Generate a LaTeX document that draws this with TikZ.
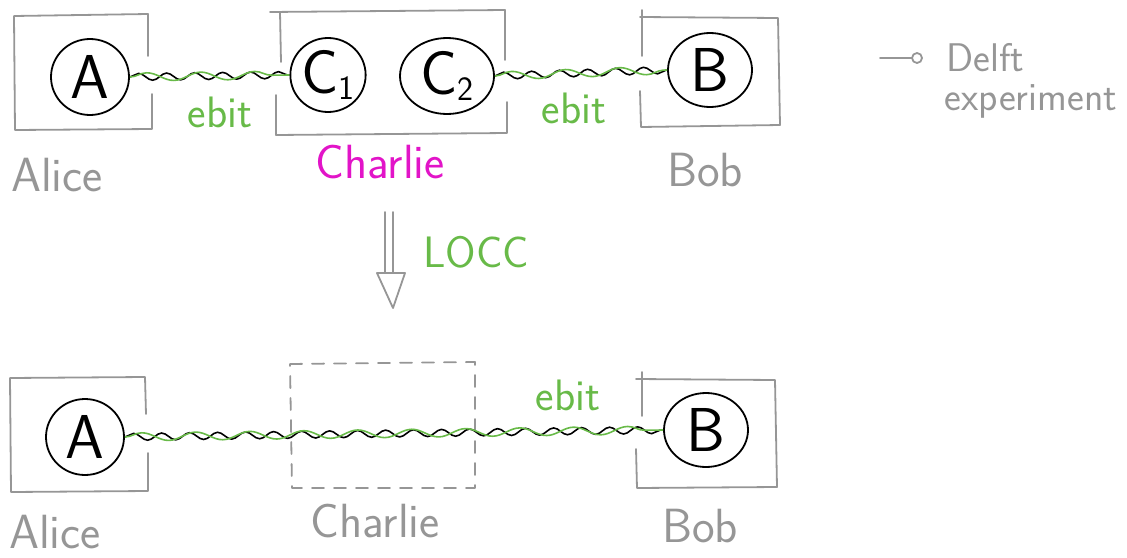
\documentclass[tikz,border=0pt]{standalone}
\usepackage{fontspec}
\usetikzlibrary{shapes.geometric,decorations.pathmorphing,calc}
\definecolor{framegray}{RGB}{150,150,150}
\definecolor{qgreen}{RGB}{104,186,72}
\definecolor{charliemag}{RGB}{226,20,200}
\tikzset{
  frame/.style={draw=framegray, line width=1.8pt, line cap=round, line join=round},
  dframe/.style={frame, dash pattern=on 12pt off 10pt},
  qubit/.style={draw=black, ellipse, line width=1.8pt, inner sep=0pt, font=\sffamily\fontsize{62}{62}\selectfont},
  blackwave/.style={draw=black, line width=1.6pt, decorate, decoration={snake, amplitude=3.5pt, segment length=28pt}},
  greenwave/.style={draw=qgreen, line width=1.6pt, decorate, decoration={snake, amplitude=4pt, segment length=54pt}},
  graylabel/.style={text=framegray, font=\sffamily\fontsize{48}{48}\selectfont},
  greenlabel/.style={text=qgreen, font=\sffamily\fontsize{44}{44}\selectfont},
  notelabel/.style={text=framegray, font=\sffamily\fontsize{40}{40}\selectfont, anchor=west, inner sep=0.5pt},
}
\begin{document}
\begin{tikzpicture}[x=1pt, y=-1pt]
\useasboundingbox (0,0) rectangle (1127,557);

% ---------- before: two ebits through Charlie ----------
% Alice's lab
\draw[frame] (148,56) -- (148,14) -- (14,16) -- (15,130) -- (152,129) -- (152,94);
% Charlie's lab
\draw[frame] (281,62) -- (280,12);
\draw[frame] (270,12) -- (505,10) -- (505,60);
\draw[frame] (276,95) -- (276,135) -- (507,133) -- (507,102);
% Bob's lab
\draw[frame] (642,10) -- (642,56);
\draw[frame] (640,17) -- (778,18) -- (780,125) -- (641,127) -- (640,91);

\node[qubit, minimum width=78pt, minimum height=76pt] (A1) at (90,77) {A};
\node[qubit, minimum width=68pt, minimum height=74pt] (C1) at (328,75) {C\raisebox{-6pt}{\fontsize{34}{34}\selectfont 1}};
\node[qubit, minimum width=94pt, minimum height=76pt] (C2) at (447,76) {C\raisebox{-6pt}{\fontsize{34}{34}\selectfont 2}};
\node[qubit, minimum width=84pt, minimum height=74pt] (B1) at (710,70) {B};

\draw[blackwave] (A1.east) -- (C1.west);
\draw[greenwave] (A1.east) -- (C1.west);
\draw[blackwave] (C2.east) -- (B1.west);
\draw[greenwave] (C2.east) -- (B1.west);

\node[greenlabel] (e1) at (220,112) {ebit};
\node[greenlabel] (e2) at (574,108) {ebit};

\node[graylabel] (alice1) at (57,175) {Alice};
\node[text=charliemag, font=\sffamily\fontsize{48}{48}\selectfont] (charlie1) at (380,162) {Charlie};
\node[graylabel] (bob1) at (705,170) {Bob};

% side remark
\node[notelabel] (delft) at (946,58) {Delft};
\node[notelabel] (exper) at (944,101) {experiment};
\coordinate (mark) at (880,58);
\draw[frame] (mark) -- ++(32,0);
\draw[frame] ($(mark)+(37,0)$) circle (5pt);

% ---------- LOCC step ----------
\coordinate (lt) at (389,212);
\draw[frame] ($(lt)+(-4,0)$) -- ++(0,61);
\draw[frame] ($(lt)+(4,0)$) -- ++(0,61);
\draw[frame] ($(lt)+(-12,61)$) -- ($(lt)+(16,61)$) -- ($(lt)+(4,96)$) -- cycle;
\node[greenlabel, anchor=west] (locc) at (420,252) {LOCC};

% ---------- after: one ebit from Alice to Bob ----------
\draw[frame] (146,414) -- (145,377) -- (10,378) -- (11,492) -- (148,491) -- (148,453);
\draw[dframe] (290,364) -- (475,362) -- (475,488) -- (292,488) -- cycle;
\draw[frame] (642,372) -- (642,416);
\draw[frame] (636,379) -- (775,380) -- (777,487) -- (637,488) -- (636,449);

\node[qubit, minimum width=78pt, minimum height=76pt] (A2) at (85,437) {A};
\node[qubit, minimum width=84pt, minimum height=74pt] (B2) at (706,430) {B};

\draw[blackwave] (A2.east) -- (B2.west);
\draw[greenwave] (A2.east) -- (B2.west);

\node[greenlabel] (e3) at (568,395) {ebit};

\node[graylabel] (alice2) at (55,532) {Alice};
\node[graylabel] (charlie2) at (375,521) {Charlie};
\node[graylabel] (bob2) at (700,526) {Bob};
\end{tikzpicture}
\end{document}
